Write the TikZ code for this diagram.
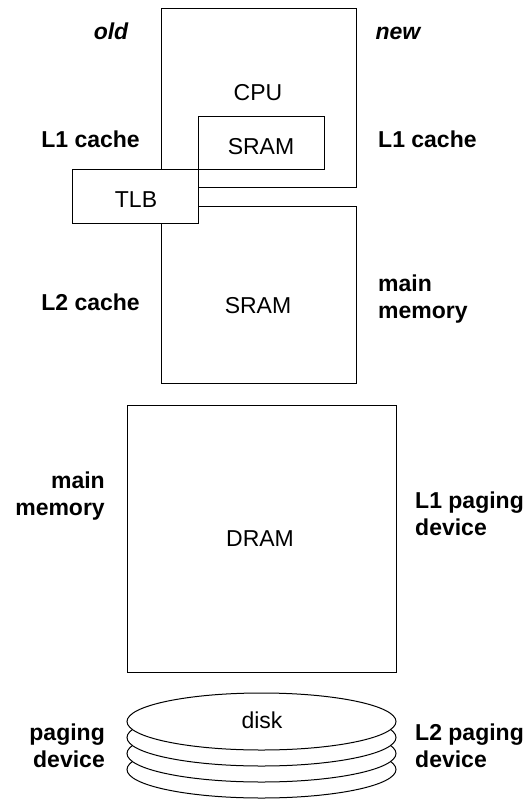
\documentclass[tikz,border=0pt]{standalone}
\usepackage{fontspec}
\setmainfont{Liberation Sans}
\usetikzlibrary{shapes.geometric}
\begin{document}
\begin{tikzpicture}[x=1pt,y=-1pt,
  every node/.style={font=\fontsize{23}{27}\selectfont, inner sep=0pt},
  box/.style={draw, line width=1pt, fill=white, rectangle},
  platter/.style={draw, line width=1pt, fill=white, ellipse, minimum width=269pt, minimum height=57pt},
  lbl/.style={font=\fontsize{23}{27}\selectfont\bfseries},
  lblL/.style={lbl, anchor=base east, align=right},
  lblR/.style={lbl, anchor=base west, align=left},
  head/.style={font=\fontsize{23}{27}\selectfont\bfseries\itshape, anchor=base},
  inside/.style={anchor=base}]
\useasboundingbox (0,0) rectangle (529,799);

% processor chip with its on-chip cache
\node[box, minimum width=195pt, minimum height=179pt] (cpu) at (258.5,98.5) {};
\node[box, minimum width=126pt, minimum height=53pt] (sram1) at (261,143.5) {};
% second-level cache / new main memory
\node[box, minimum width=195pt, minimum height=176pt] (sram2) at (258.5,295) {};
% translation lookaside buffer, drawn over both edges
\node[box, minimum width=126pt, minimum height=54pt] (tlb) at (135,197) {};
% DRAM block
\node[box, minimum width=269pt, minimum height=267pt] (dram) at (261.5,538.5) {};
% disk platters, bottom first
\node[platter] (disk4) at (261.5,769.5) {};
\node[platter] (disk3) at (261.5,753.5) {};
\node[platter] (disk2) at (261.5,737.5) {};
\node[platter] (disk1) at (261.5,721.5) {};

% texts inside the shapes
\node[inside] (tcpu) at (258,101) {CPU};
\node[inside] (tsram1) at (261,155) {SRAM};
\node[inside] (ttlb) at (136,208) {TLB};
\node[inside] (tsram2) at (258,313) {SRAM};
\node[inside] (tdram) at (260,546) {DRAM};
\node[inside] (tdisk) at (262,728) {disk};

% column headings
\node[head] (old) at (111,40) {old};
\node[head] (new) at (398,40) {new};

% labels of the old hierarchy (two-line labels are placed by their last line)
\node[lblL] (l1old) at (140,148) {L1 cache};
\node[lblL] (l2old) at (140,310) {L2 cache};
\node[lblL] (mmold) at (105,515) {main\\memory};
\node[lblL] (pdold) at (105,767) {paging\\device};

% labels of the new hierarchy
\node[lblR] (l1new) at (378,148) {L1 cache};
\node[lblR] (mmnew) at (378,318) {main\\memory};
\node[lblR] (pd1new) at (415,535) {L1 paging\\device};
\node[lblR] (pd2new) at (415,767) {L2 paging\\device};
\end{tikzpicture}
\end{document}
